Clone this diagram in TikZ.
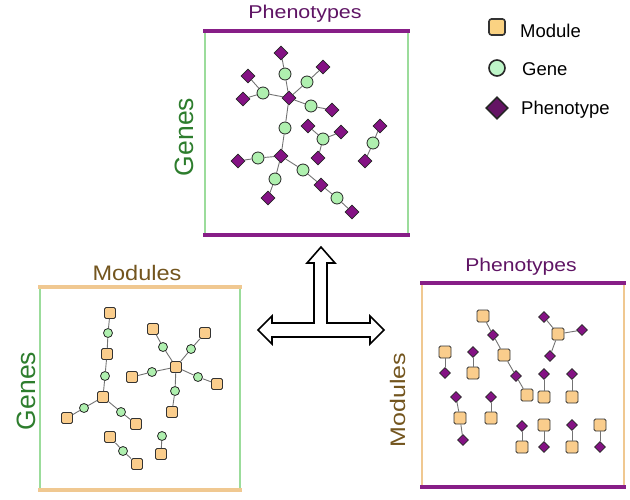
\documentclass[tikz,border=0pt]{standalone}
\usepackage{fontspec}
\setmainfont{Liberation Sans}
\usetikzlibrary{shapes.geometric}
\definecolor{phenofill}{RGB}{132,18,132}
\definecolor{phenoline}{RGB}{135,30,135}
\definecolor{phenotext}{RGB}{95,20,100}
\definecolor{genefill}{RGB}{175,240,175}
\definecolor{geneline}{RGB}{155,220,155}
\definecolor{genetext}{RGB}{45,125,45}
\definecolor{modfill}{RGB}{250,205,140}
\definecolor{modline}{RGB}{240,200,145}
\definecolor{modtext}{RGB}{115,85,30}
\definecolor{edgegray}{RGB}{115,115,115}
\tikzset{
  gene/.style={circle,draw=black!85,fill=genefill,line width=0.8pt,inner sep=0pt,minimum size=12pt},
  pheno/.style={diamond,draw=black!85,fill=phenofill,line width=0.8pt,inner sep=0pt,minimum size=14pt},
  module/.style={rectangle,rounded corners=1.5pt,draw=black!80,fill=modfill,line width=0.8pt,inner sep=0pt,minimum size=11pt},
  link/.style={draw=edgegray,line width=0.9pt},
  phenotitle/.style={text=phenotext,font=\fontsize{18.5}{20}\selectfont,inner sep=0pt,anchor=base},
  modtitle/.style={text=modtext,font=\fontsize{21}{23}\selectfont,inner sep=0pt,anchor=base},
  genetitle/.style={text=genetext,font=\fontsize{26.5}{28}\selectfont,inner sep=0pt,anchor=base,rotate=90},
  keytext/.style={font=\fontsize{18.5}{20}\selectfont,inner sep=0pt,anchor=base west}
}
\begin{document}
\begin{tikzpicture}[x=1pt,y=-1pt]
  \useasboundingbox (0,0) rectangle (630,499);
  % top panel: genes x phenotypes
  \draw[geneline,line width=2.7pt] (205,31) -- (205,235) (408,31) -- (408,235);
  \draw[phenoline,line width=3.3pt] (203,31) -- (410,31) (203,235) -- (410,235);
  \node[phenotitle] (toptitle) at (305,18) {\scalebox{1.16}[1]{Phenotypes}};
  \node[genetitle] (topside) at (193,137) {Genes};
  \draw
    (281,53) node[pheno] (ad1){}
    (285,74) node[gene] (ag1){}
    (323,67) node[pheno] (ad2){}
    (307,82) node[gene] (ag2){}
    (248,76) node[pheno] (ad3){}
    (263,93) node[gene] (ag3){}
    (243,99) node[pheno] (ad4){}
    (289,98) node[pheno] (ac1){}
    (311,106) node[gene] (ag4){}
    (332,110) node[pheno] (ad5){}
    (285,128) node[gene] (ag5){}
    (308,126) node[pheno] (ad6){}
    (323,139) node[gene] (ag6){}
    (341,132) node[pheno] (ad7){}
    (318,158) node[pheno] (ad8){}
    (380,126) node[pheno] (ad9){}
    (373,143) node[gene] (ag7){}
    (365,161) node[pheno] (ad10){}
    (281,156) node[pheno] (ac2){}
    (258,158) node[gene] (ag8){}
    (238,161) node[pheno] (ad11){}
    (303,170) node[gene] (ag9){}
    (321,185) node[pheno] (ad12){}
    (337,198) node[gene] (ag10){}
    (352,212) node[pheno] (ad13){}
    (275,179) node[gene] (ag11){}
    (268,198) node[pheno] (ad14){};
  \begin{scope}[link]
    \draw (ad1) to (ag1);
    \draw (ag1) to (ac1);
    \draw (ad2) to (ag2);
    \draw (ag2) to (ac1);
    \draw (ad3) to (ag3);
    \draw (ad4) to (ag3);
    \draw (ag3) to (ac1);
    \draw (ac1) to (ag4);
    \draw (ag4) to (ad5);
    \draw (ac1) to (ag5);
    \draw (ag5) to (ac2);
    \draw (ad6) to (ag6);
    \draw (ad7) to (ag6);
    \draw (ag6) to (ad8);
    \draw (ad9) to (ag7);
    \draw (ag7) to (ad10);
    \draw (ac2) to (ag8);
    \draw (ag8) to (ad11);
    \draw (ac2) to (ag9);
    \draw (ag9) to (ad12);
    \draw (ad12) to (ag10);
    \draw (ag10) to (ad13);
    \draw (ac2) to (ag11);
    \draw (ag11) to (ad14);
  \end{scope}
  % bottom left panel: genes x modules
  \draw[geneline,line width=2.7pt] (40,287) -- (40,490) (240,287) -- (240,490);
  \draw[modline,line width=3.3pt] (38,287) -- (242,287) (38,490) -- (242,490);
  \node[modtitle] (lefttitle) at (137,280) {\scalebox{1.12}[1]{Modules}};
  \node[genetitle] (leftside) at (35,391) {Genes};
  \begin{scope}[gene/.append style={minimum size=9pt}]
  \draw
    (110,313) node[module] (bm1){}
    (108,333) node[gene] (bg1){}
    (107,354) node[module] (bm2){}
    (105,376) node[gene] (bg2){}
    (103,397) node[module] (bm3){}
    (84,408) node[gene] (bg3){}
    (67,418) node[module] (bm4){}
    (121,412) node[gene] (bg4){}
    (136,424) node[module] (bm5){}
    (153,329) node[module] (bm6){}
    (163,347) node[gene] (bg5){}
    (205,333) node[module] (bm7){}
    (191,349) node[gene] (bg6){}
    (176,367) node[module] (bc){}
    (152,372) node[gene] (bg7){}
    (132,377) node[module] (bm8){}
    (198,377) node[gene] (bg8){}
    (217,384) node[module] (bm9){}
    (175,391) node[gene] (bg9){}
    (172,412) node[module] (bm10){}
    (110,437) node[module] (bm11){}
    (123,451) node[gene] (bg10){}
    (137,464) node[module] (bm12){}
    (162,436) node[gene] (bg11){}
    (161,454) node[module] (bm13){};
  \end{scope}
  \begin{scope}[link]
    \draw (bm1) to (bg1);
    \draw (bg1) to (bm2);
    \draw (bm2) to (bg2);
    \draw (bg2) to (bm3);
    \draw (bm3) to (bg3);
    \draw (bg3) to (bm4);
    \draw (bm3) to (bg4);
    \draw (bg4) to (bm5);
    \draw (bc) to (bg5);
    \draw (bg5) to (bm6);
    \draw (bc) to (bg6);
    \draw (bg6) to (bm7);
    \draw (bc) to (bg7);
    \draw (bg7) to (bm8);
    \draw (bc) to (bg8);
    \draw (bg8) to (bm9);
    \draw (bc) to (bg9);
    \draw (bg9) to (bm10);
    \draw (bm11) to (bg10);
    \draw (bg10) to (bm12);
    \draw (bg11) to (bm13);
  \end{scope}
  % bottom right panel: modules x phenotypes
  \draw[modline,line width=2.7pt] (422,283) -- (422,487) (624,283) -- (624,487);
  \draw[phenoline,line width=3.3pt] (420,283) -- (626,283) (420,487) -- (626,487);
  \node[phenotitle] (righttitle) at (521,271) {\scalebox{1.14}[1]{Phenotypes}};
  \node[modtitle,rotate=90] (rightside) at (405,400) {\scalebox{1.19}[1]{Modules}};
  \begin{scope}[pheno/.append style={minimum size=11pt},module/.append style={minimum size=12pt}]
  \draw
    (483,316) node[module] (cm1){}
    (493,335) node[pheno] (cd1){}
    (504,355) node[module] (cm2){}
    (516,376) node[pheno] (cd2){}
    (527,395) node[module] (cm3){}
    (544,317) node[pheno] (cd3){}
    (558,334) node[module] (cm4){}
    (582,330) node[pheno] (cd4){}
    (550,356) node[pheno] (cd5){}
    (445,352) node[module] (cm5){}
    (445,373) node[pheno] (cd6){}
    (473,352) node[pheno] (cd7){}
    (473,373) node[module] (cm6){}
    (544,374) node[pheno] (cd8){}
    (544,397) node[module] (cm7){}
    (572,374) node[pheno] (cd9){}
    (572,397) node[module] (cm8){}
    (456,397) node[pheno] (cd10){}
    (460,418) node[module] (cm9){}
    (463,440) node[pheno] (cd11){}
    (491,397) node[pheno] (cd12){}
    (491,418) node[module] (cm10){}
    (522,426) node[pheno] (cd13){}
    (522,447) node[module] (cm11){}
    (544,425) node[module] (cm12){}
    (544,447) node[pheno] (cd14){}
    (572,425) node[pheno] (cd15){}
    (572,447) node[module] (cm13){}
    (600,425) node[module] (cm14){}
    (600,447) node[pheno] (cd16){};
  \end{scope}
  \begin{scope}[link]
    \draw (cm1) to (cd1);
    \draw (cd1) to (cm2);
    \draw (cm2) to (cd2);
    \draw (cd2) to (cm3);
    \draw (cd3) to (cm4);
    \draw (cm4) to (cd4);
    \draw (cm4) to (cd5);
    \draw (cm5) to (cd6);
    \draw (cd7) to (cm6);
    \draw (cd8) to (cm7);
    \draw (cd9) to (cm8);
    \draw (cd10) to (cm9);
    \draw (cm9) to (cd11);
    \draw (cd12) to (cm10);
    \draw (cd13) to (cm11);
    \draw (cm12) to (cd14);
    \draw (cd15) to (cm13);
    \draw (cm14) to (cd16);
  \end{scope}
  % three-way block arrow
  \draw[line width=1.6pt,fill=white,line join=miter]
    (321,247) -- (335,263) -- (327,263) -- (327,323) -- (370,323) -- (370,316)
    -- (384,330) -- (370,344) -- (370,337) -- (272,337) -- (272,344) -- (258,330)
    -- (272,316) -- (272,323) -- (314,323) -- (314,263) -- (307,263) -- cycle;
  % legend
  \node[module,minimum size=16pt,line width=1.6pt,rounded corners=2.5pt,fill={rgb,255:red,250;green,210;blue,130}] (keymod) at (497,27) {};
  \node[gene,minimum size=16pt,line width=1.6pt,fill={rgb,255:red,190;green,245;blue,200}] (keygene) at (497,68) {};
  \node[pheno,minimum size=22pt,line width=1.6pt,fill={rgb,255:red,100;green,20;blue,100}] (keypheno) at (497,108) {};
  \node[keytext] (keymodtext) at (520,37) {Module};
  \node[keytext] (keygenetext) at (522,75) {Gene};
  \node[keytext] (keyphenotext) at (521,114) {Phenotype};
\end{tikzpicture}
\end{document}
